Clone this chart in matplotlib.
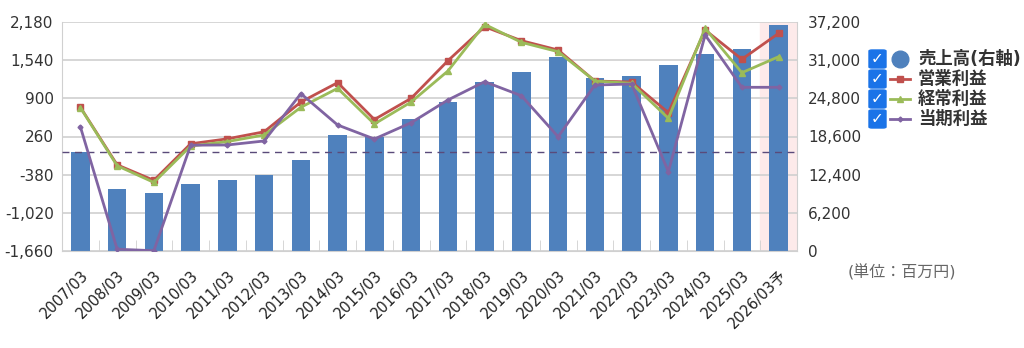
import numpy as np
import matplotlib.pyplot as plt
from matplotlib.lines import Line2D
from matplotlib.patches import FancyBboxPatch

plt.rcParams['font.family'] = ['DejaVu Sans', 'Noto Sans CJK JP']

# データ（単位：百万円）
years = ['2007/03', '2008/03', '2009/03', '2010/03', '2011/03', '2012/03', '2013/03',
         '2014/03', '2015/03', '2016/03', '2017/03', '2018/03', '2019/03', '2020/03',
         '2021/03', '2022/03', '2023/03', '2024/03', '2025/03', '2026/03予']
uriage = [16130, 10120, 9470, 10830, 11480, 12400, 14780, 18790, 18570, 21500,
          24200, 27500, 29080, 31520, 28160, 28370, 30160, 31950, 32810, 36660]
eigyo = [750, -215, -475, 138, 221, 339, 838, 1163, 545, 900,
         1530, 2101, 1867, 1710, 1190, 1174, 660, 2046, 1555, 1990]
keijo = [745, -230, -510, 100, 175, 285, 750, 1068, 470, 838,
         1358, 2141, 1839, 1682, 1190, 1152, 565, 2074, 1330, 1598]
touki = [423, -1630, -1655, 114, 118, 185, 979, 453, 218, 491,
         872, 1179, 944, 256, 1123, 1140, -330, 1962, 1085, 1085]

left_ticks = [-1660, -1020, -380, 260, 900, 1540, 2180]
right_ticks = [0, 6200, 12400, 18600, 24800, 31000, 37200]

c_bar = '#4f81bd'
c_red = '#c0504d'
c_green = '#9bbb59'
c_purple = '#8064a2'
c_grid = '#d0d0d0'

fig = plt.figure(figsize=(10.24, 3.48), dpi=100)
ax = fig.add_axes([62/1024, 1-251/348, 735/1024, 229/348])
ax2 = ax.twinx()
x = np.arange(len(years))

ax.set_zorder(ax2.get_zorder()+1)
ax.patch.set_visible(False)

# 予想列の背景
ax2.axvspan(len(years)-1.5, len(years)-0.5, color='#fdeaea', zorder=0)
for g in left_ticks:
    ax2.axhline((g+1660)/3840*37200, color=c_grid, lw=1.2, zorder=1)

ax2.bar(x, uriage, width=0.5, color=c_bar, zorder=2)
ax2.set_ylim(0, 37200)
ax2.set_yticks(right_ticks)
ax2.set_yticklabels([f'{v:,}' for v in right_ticks])

ax.plot(x, eigyo, color=c_red, lw=2, marker='s', ms=4, zorder=4)
ax.plot(x, keijo, color=c_green, lw=2, marker='^', ms=5, zorder=5)
ax.plot(x, touki, color=c_purple, lw=2, marker='D', ms=2.5, zorder=6)
ax.axhline(0, color='#5a4a7a', lw=1, ls=(0, (5, 4)), zorder=3)

ax.set_ylim(-1660, 2180)
ax.set_yticks(left_ticks)
ax.set_yticklabels([f'{v:,}' for v in left_ticks])
ax.set_xlim(-0.5, len(years)-0.5)
ax.set_xticks(x)
ax.set_xticklabels(years, rotation=45, ha='right', rotation_mode='anchor')
ax.set_xticks(np.arange(len(years)+1)-0.5, minor=True)

for a in (ax, ax2):
    for s in a.spines.values():
        s.set_visible(False)
ax.spines['left'].set_visible(True)
ax.spines['left'].set_color(c_grid)
ax.spines['bottom'].set_visible(True)
ax.spines['bottom'].set_color(c_grid)
ax2.spines['right'].set_visible(True)
ax2.spines['right'].set_color(c_grid)

ax.tick_params(axis='y', length=0, labelsize=11, colors='#333333', pad=6)
ax2.tick_params(axis='y', length=0, labelsize=11, colors='#333333', pad=8)
ax.tick_params(axis='x', which='major', length=0, labelsize=10.5, colors='#222222', pad=12)
ax.tick_params(axis='x', which='minor', direction='in', length=8, color=c_grid)

# 凡例（チェックボックス付き）
labels = ['売上高(右軸)', '営業利益', '経常利益', '当期利益']
ys = [59, 79, 99, 119]
for i, (lab, yy) in enumerate(zip(labels, ys)):
    fy = 1 - yy/348
    box = FancyBboxPatch((869/1024, fy - 9/348), 17/1024, 18/348,
                         boxstyle='round,pad=0,rounding_size=0.003',
                         transform=fig.transFigure, facecolor='#1a73e8',
                         edgecolor='#1a73e8', figure=fig)
    fig.patches.append(box)
    fig.text(877.5/1024, fy, '✓', color='white', fontsize=11, fontweight='bold',
             ha='center', va='center')
    if i == 0:
        fig.lines.append(Line2D([900/1024], [fy], marker='o', ms=12, color=c_bar,
                                transform=fig.transFigure))
    else:
        col = [c_red, c_green, c_purple][i-1]
        mk = ['s', '^', 'D'][i-1]
        ms = [4, 5, 2.5][i-1]
        fig.lines.append(Line2D([890/1024, 900/1024, 910/1024], [fy, fy, fy],
                                color=col, lw=2, marker=mk, ms=ms, markevery=[1],
                                transform=fig.transFigure))
    fig.text(918/1024, fy, lab, fontsize=12.5, fontweight='bold', color='#333333',
             ha='left', va='center')

fig.text(848/1024, 1-272/348, '(単位：百万円)', fontsize=11.5, color='#666666',
         ha='left', va='center')

fig.savefig('out.png', dpi=100)
